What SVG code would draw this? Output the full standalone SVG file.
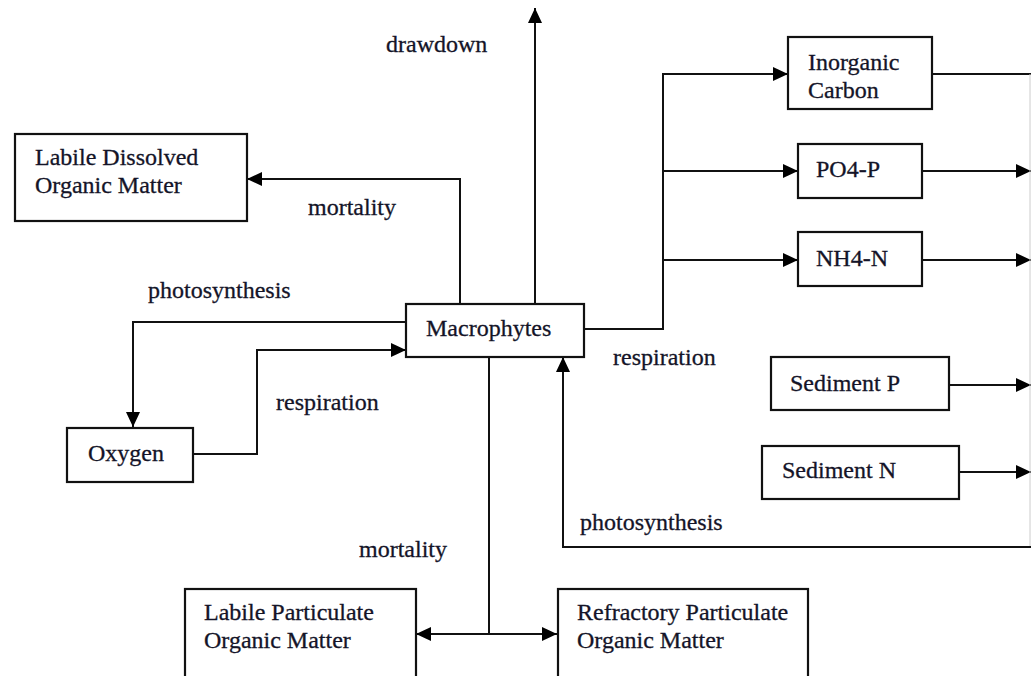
<svg xmlns="http://www.w3.org/2000/svg" width="1031" height="676" viewBox="0 0 1031 676">
<style>
.box{fill:#fff;stroke:#111;stroke-width:2.2}
.t{font-family:'Liberation Serif','Times New Roman',serif;font-size:24px;fill:#141428;stroke:#141428;stroke-width:0.3}
.c{fill:none;stroke:#111;stroke-width:2}
</style>
<defs>
<marker id="ah" markerUnits="userSpaceOnUse" markerWidth="16" markerHeight="14" refX="15" refY="7" orient="auto">
<path d="M0,0 L15,7 L0,14 Z" fill="#000"/>
</marker>
<marker id="as" markerUnits="userSpaceOnUse" markerWidth="16" markerHeight="14" refX="1" refY="7" orient="auto">
<path d="M15,0 L0,7 L15,14 Z" fill="#000"/>
</marker>
</defs>
<rect width="1031" height="676" fill="#fff"/>
<g id="connectors">
<path class="c" d="M535,304 V8" marker-end="url(#ah)"/>
<path class="c" d="M460,304 V179 H247" marker-end="url(#ah)"/>
<path class="c" d="M406,322 H133 V427" marker-end="url(#ah)"/>
<path class="c" d="M193,454 H257 V350 H406" marker-end="url(#ah)"/>
<path class="c" d="M584,329 H663 V74 H788" marker-end="url(#ah)"/>
<path class="c" d="M663,171 H798" marker-end="url(#ah)"/>
<path class="c" d="M663,260 H798" marker-end="url(#ah)"/>
<path class="c" d="M932,74 H1031"/>
<path class="c" d="M922,171 H1031" marker-end="url(#ah)"/>
<path class="c" d="M922,260 H1031" marker-end="url(#ah)"/>
<path class="c" d="M949,385 H1031" marker-end="url(#ah)"/>
<path class="c" d="M959,472 H1031" marker-end="url(#ah)"/>
<path fill="none" stroke="#ccc" stroke-width="1" d="M1030,74 V547"/>
<path class="c" d="M1031,547 H563 V357" marker-end="url(#ah)"/>
<path class="c" d="M489,357 V634"/>
<path class="c" d="M417,634 H557" marker-start="url(#as)" marker-end="url(#ah)"/>
<text class="t" x="386" y="52">drawdown</text>
<text class="t" x="308" y="215">mortality</text>
<text class="t" x="148" y="298">photosynthesis</text>
<text class="t" x="276" y="410">respiration</text>
<text class="t" x="613" y="365">respiration</text>
<text class="t" x="359" y="557">mortality</text>
<text class="t" x="580" y="530">photosynthesis</text>
</g>
<g id="macrophytes"><rect class="box" x="406" y="304" width="178" height="53"/><text class="t" x="426" y="336">Macrophytes</text></g>
<g id="labile-dom"><rect class="box" x="15" y="134" width="232" height="87"/><text class="t" x="35" y="165">Labile Dissolved</text><text class="t" x="35" y="193">Organic Matter</text></g>
<g id="oxygen"><rect class="box" x="67" y="428" width="126" height="54"/><text class="t" x="88" y="461">Oxygen</text></g>
<g id="inorganic-carbon"><rect class="box" x="788" y="37" width="144" height="72"/><text class="t" x="808" y="70">Inorganic</text><text class="t" x="808" y="98">Carbon</text></g>
<g id="po4p"><rect class="box" x="798" y="144" width="124" height="54"/><text class="t" x="816" y="177">PO4-P</text></g>
<g id="nh4n"><rect class="box" x="798" y="232" width="124" height="54"/><text class="t" x="816" y="266">NH4-N</text></g>
<g id="sediment-p"><rect class="box" x="771" y="357" width="178" height="53"/><text class="t" x="790" y="391">Sediment P</text></g>
<g id="sediment-n"><rect class="box" x="762" y="446" width="197" height="53"/><text class="t" x="782" y="478">Sediment N</text></g>
<g id="labile-pom"><rect class="box" x="185" y="589" width="231" height="100"/><text class="t" x="204" y="620">Labile Particulate</text><text class="t" x="204" y="648">Organic Matter</text></g>
<g id="refractory-pom"><rect class="box" x="558" y="589" width="250" height="100"/><text class="t" x="577" y="620">Refractory Particulate</text><text class="t" x="577" y="648">Organic Matter</text></g>
</svg>
